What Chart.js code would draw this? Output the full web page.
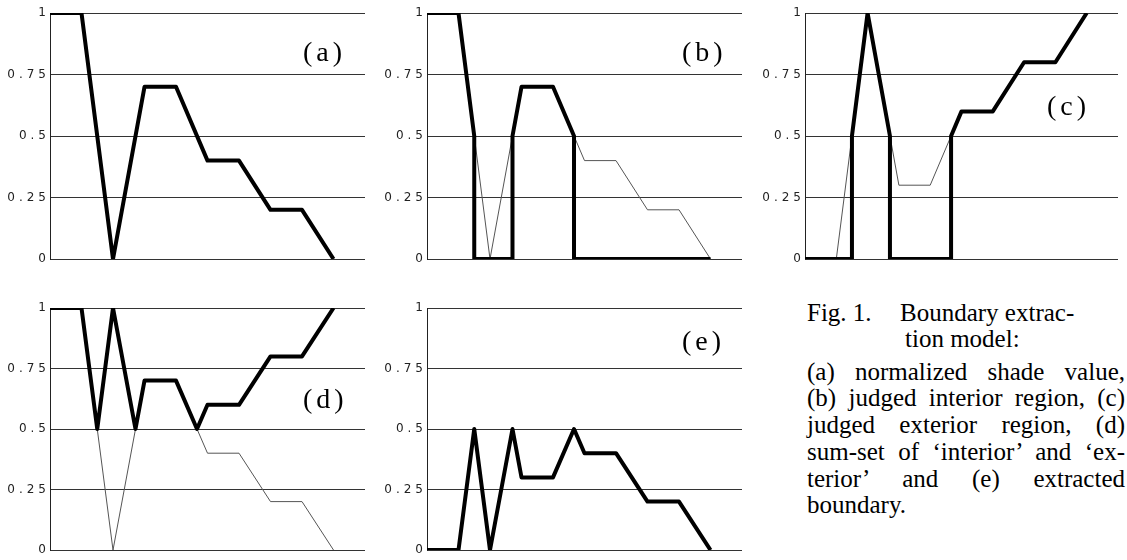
<!DOCTYPE html>
<html>
<head>
<meta charset="utf-8">
<script src="https://cdn.jsdelivr.net/npm/chart.js@4.4.1/dist/chart.umd.min.js"></script>
<style>
  body { margin: 0; background: #fff; width: 1127px; height: 560px; overflow: hidden; position: relative; }
  canvas { position: absolute; }
  .tag { position: absolute; font: 28px "Liberation Serif", serif; letter-spacing: 4px; line-height: 1; color: #000; }
  .cap { position: absolute; font: 25px "Liberation Serif", serif; line-height: 27px; color: #000; white-space: nowrap; }
  .just { width: 318px; white-space: normal; text-align: justify; text-align-last: justify; }
</style>
</head>
<body>
<canvas id="chartA" width="370" height="270" style="left:0;top:0"></canvas>
<canvas id="chartB" width="370" height="270" style="left:377px;top:0"></canvas>
<canvas id="chartC" width="368" height="270" style="left:755px;top:0"></canvas>
<canvas id="chartD" width="370" height="265" style="left:0;top:295px"></canvas>
<canvas id="chartE" width="370" height="265" style="left:377px;top:295px"></canvas>

<div class="tag" style="left:303px;top:38px">(a)</div>
<div class="tag" style="left:682px;top:38px">(b)</div>
<div class="tag" style="left:1047px;top:92px">(c)</div>
<div class="tag" style="left:303px;top:385px">(d)</div>
<div class="tag" style="left:682px;top:327px">(e)</div>

<div class="cap" style="left:807px;top:299px">Fig. 1.</div>
<div class="cap" style="left:900px;top:299px">Boundary extrac-</div>
<div class="cap" style="left:905px;top:325px">tion model:</div>
<div class="cap just" style="left:807px;top:358px">(a) normalized shade value,</div>
<div class="cap just" style="left:807px;top:384px">(b) judged interior region, (c)</div>
<div class="cap just" style="left:807px;top:411px">judged exterior region, (d)</div>
<div class="cap just" style="left:807px;top:438px">sum-set of ‘interior’ and ‘ex-</div>
<div class="cap just" style="left:807px;top:465px">terior’ and (e) extracted</div>
<div class="cap" style="left:807px;top:491px">boundary.</div>

<script>
const tickLabels = ["0", "0.25", "0.5", "0.75", "1"];

// (a) normalized shade value
const shadeX = [0, 1, 2, 3, 4, 5, 6, 7, 8, 9];
const shadeY = [1, 1, 0, 0.7, 0.7, 0.4, 0.4, 0.2, 0.2, 0];
// 1 - shade, used as the thin line in (c)
const invShadeY = [0, 0, 1, 0.3, 0.3, 0.6, 0.6, 0.8, 0.8, 1];

// (b) judged interior region
const interiorX = [0, 1, 1.5, 1.5, 2.714, 2.714, 3, 4, 4.667, 4.667, 9];
const interiorY = [1, 1, 0.5, 0, 0, 0.5, 0.7, 0.7, 0.5, 0, 0];

// (c) judged exterior region
const exteriorX = [0, 1.5, 1.5, 2, 2.714, 2.714, 4.667, 4.667, 5, 6, 7, 8, 9];
const exteriorY = [0, 0, 0.5, 1, 0.5, 0, 0, 0.5, 0.6, 0.6, 0.8, 0.8, 1];

// (d) sum-set, (e) extracted boundary
const sumX = [0, 1, 1.5, 2, 2.714, 3, 4, 4.667, 5, 6, 7, 8, 9];
const sumY = [1, 1, 0.5, 1, 0.5, 0.7, 0.7, 0.5, 0.6, 0.6, 0.8, 0.8, 1];
const boundaryY = [0, 0, 0.5, 0, 0.5, 0.3, 0.3, 0.5, 0.4, 0.4, 0.2, 0.2, 0];

const pts = (xs, ys) => xs.map((x, i) => ({ x: x, y: ys[i] }));

// wide, spaced-out tick digits like the original
const spacedTicks = {
  id: "spacedTicks",
  beforeDraw(chart) {
    chart.ctx.letterSpacing = "4px";
  },
};

function thick(xs, ys) {
  return {
    data: pts(xs, ys),
    borderColor: "#000",
    borderWidth: 4,
    borderJoinStyle: "round",
    pointRadius: 0,
    order: 0,
  };
}
function thin(xs, ys) {
  return { data: pts(xs, ys), borderColor: "#555", borderWidth: 1, pointRadius: 0, order: 1 };
}

function makeChart(id, datasets, padTop, padBottom) {
  return new Chart(document.getElementById(id), {
    type: "line",
    data: { datasets: datasets },
    plugins: [spacedTicks],
    options: {
      responsive: false,
      animation: false,
      devicePixelRatio: 1,
      layout: { padding: { top: padTop, right: 5, bottom: padBottom, left: 0 } },
      plugins: { legend: { display: false }, tooltip: { enabled: false } },
      scales: {
        x: { type: "linear", min: 0, max: 10, display: false },
        y: {
          min: 0,
          max: 1,
          afterFit(scale) {
            scale.width = 50;
          },
          ticks: {
            stepSize: 0.25,
            padding: 0,
            color: "#222",
            font: { family: "DejaVu Sans", size: 12 },
            callback: (v, i) => tickLabels[i],
          },
          grid: { color: "#333", lineWidth: 1, drawTicks: false },
          border: { display: true, color: "#222", width: 1 },
        },
      },
    },
  });
}

makeChart("chartA", [thick(shadeX, shadeY)], 13, 11);
makeChart("chartB", [thick(interiorX, interiorY), thin(shadeX, shadeY)], 13, 11);
makeChart("chartC", [thick(exteriorX, exteriorY), thin(shadeX, invShadeY)], 13, 11);
makeChart("chartD", [thick(sumX, sumY), thin(shadeX, shadeY)], 13, 10);
makeChart("chartE", [thick(sumX, boundaryY)], 13, 10);
</script>
</body>
</html>
